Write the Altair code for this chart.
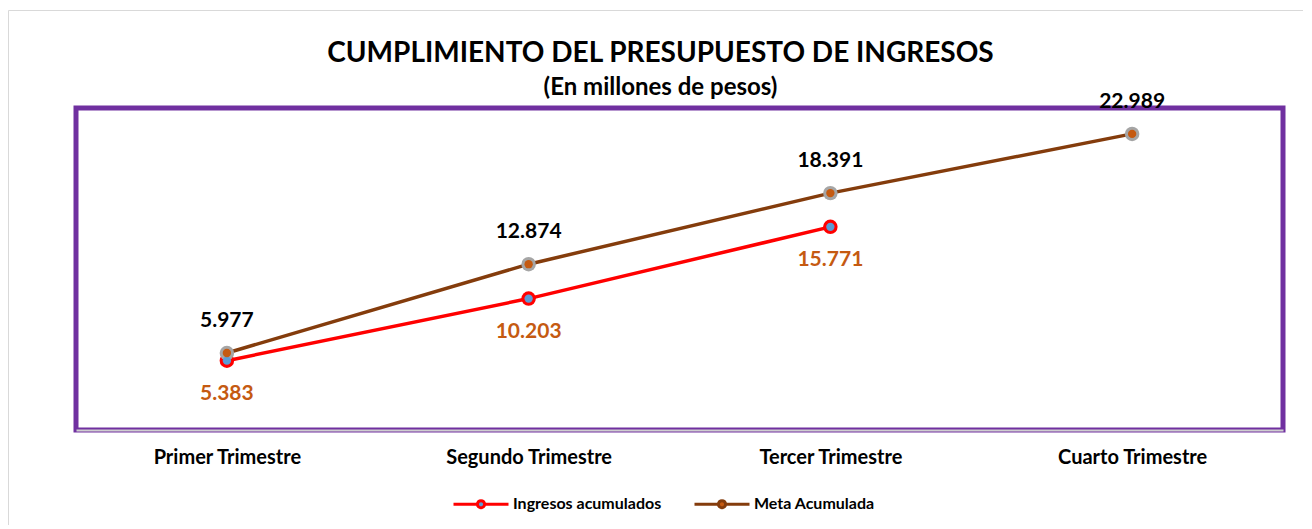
import altair as alt
import pandas as pd

categorias = ["Primer Trimestre", "Segundo Trimestre", "Tercer Trimestre", "Cuarto Trimestre"]
ingresos = [5.383, 10.203, 15.771]
meta = [5.977, 12.874, 18.391, 22.989]
series = ["Ingresos acumulados", "Meta Acumulada"]

rows = []
for c, v in zip(categorias, ingresos):
    rows.append({"trimestre": c, "serie": series[0], "valor": v})
for c, v in zip(categorias, meta):
    rows.append({"trimestre": c, "serie": series[1], "valor": v})
df = pd.DataFrame(rows)

FONT = "Lato"
PURPLE = "#7030A0"

x_enc = alt.X(
    "trimestre:N",
    sort=categorias,
    scale=alt.Scale(type="point", padding=0.5),
    axis=alt.Axis(
        title=None, labelAngle=0, ticks=False, labelFont=FONT, labelFontSize=20,
        labelFontWeight="bold", labelColor="black", labelPadding=17,
        domainColor="#CFCFCF", domainWidth=2,
    ),
)
y_enc = alt.Y("valor:Q", scale=alt.Scale(domain=[0, 25], nice=False, zero=True), axis=None)

legend = alt.Legend(
    title=None, orient="none", legendX=376, legendY=367, direction="horizontal",
    symbolType="M-1,0H-0.13M0.13,0H1M-0.13,0A0.13,0.13,0,1,1,0.13,0A0.13,0.13,0,1,1,-0.13,0Z",
    symbolSize=3025, symbolStrokeWidth=3, labelFont=FONT, labelFontSize=16,
    labelFontWeight="bold", labelColor="black", columnPadding=26, labelOffset=3,
)

base = alt.Chart(df).encode(x=x_enc, y=y_enc)

lines = base.mark_line(strokeWidth=3.5).encode(
    stroke=alt.Stroke("serie:N", scale=alt.Scale(domain=series, range=["#FF0000", "#843C0C"]), legend=legend)
)
outer = base.mark_circle(size=210, opacity=1).encode(
    color=alt.condition(alt.datum.serie == series[0], alt.value("#FF0000"), alt.value("#A5A5A5"))
)
inner = base.mark_circle(size=70, opacity=1).encode(
    fill=alt.Fill("serie:N", scale=alt.Scale(domain=series, range=["#5B9BD5", "#C55A11"]), legend=legend)
)
txt_meta = base.transform_filter(alt.datum.serie == series[1]).mark_text(
    dy=-32, font=FONT, fontSize=21, fontWeight="bold", color="black"
).encode(text=alt.Text("valor:Q", format=".3f"))
txt_ing = base.transform_filter(alt.datum.serie == series[0]).mark_text(
    dy=33, font=FONT, fontSize=21, fontWeight="bold", color="#C55A11"
).encode(text=alt.Text("valor:Q", format=".3f"))

frame = alt.Chart(pd.DataFrame({"marco": [1]})).mark_rect(
    fillOpacity=0, stroke="#D9D9D9", strokeWidth=1
).encode(x=alt.value(-67.5), x2=alt.value(1300), y=alt.value(-97.5), y2=alt.value(500))

chart = alt.layer(frame, lines, outer, inner, txt_meta, txt_ing).properties(
    width=1207,
    height=322,
    padding={"left": 68, "top": 100, "right": 20, "bottom": 95},
    autosize=alt.AutoSizeParams(type="none"),
    title=alt.TitleParams(
        text="CUMPLIMIENTO DEL PRESUPUESTO DE INGRESOS",
        subtitle="(En millones de pesos)",
        font=FONT, fontSize=28, fontWeight="bold", color="black",
        subtitleFont=FONT, subtitleFontSize=24, subtitleFontWeight="bold", subtitleColor="black",
        anchor="middle", frame="group", dx=-19, offset=-90, subtitlePadding=8.5,
    ),
).configure_view(stroke=PURPLE, strokeWidth=5)

chart.save("out.html", embed_options={"renderer": "svg", "actions": False})
